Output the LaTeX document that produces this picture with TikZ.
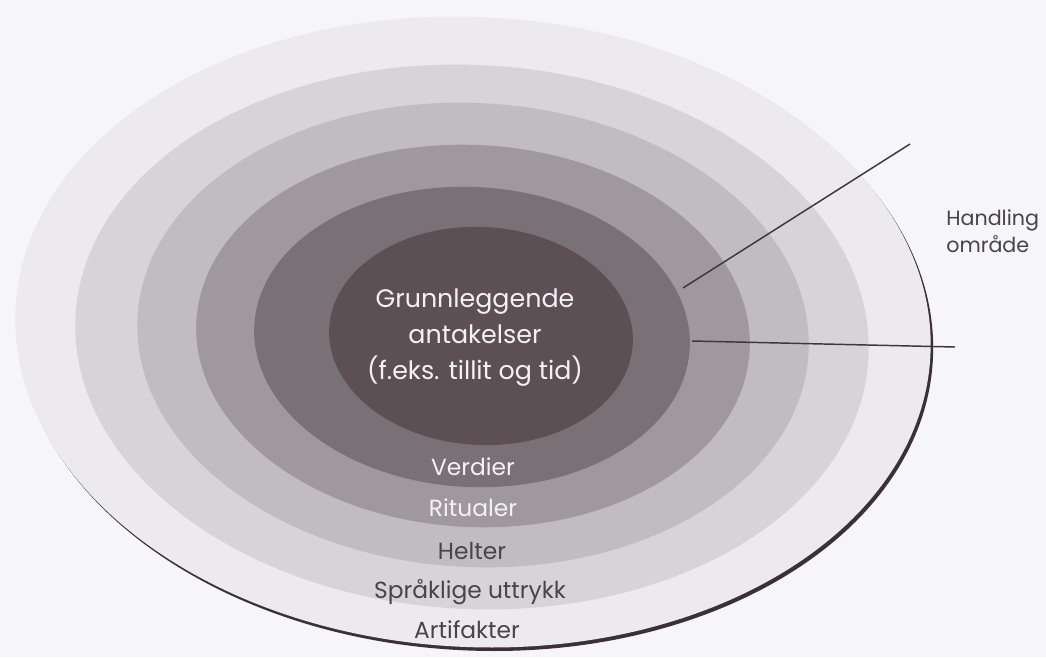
\documentclass[tikz,border=0pt]{standalone}
\usepackage{fontspec}
\setmainfont{Poppins}
\definecolor{bgc}{HTML}{F6F5F7}
\definecolor{ringA}{HTML}{ECEAEE}
\definecolor{ringB}{HTML}{D7D4D9}
\definecolor{ringC}{HTML}{C0BCC2}
\definecolor{ringD}{HTML}{9F999F}
\definecolor{ringE}{HTML}{7A7176}
\definecolor{ringF}{HTML}{5C5055}
\definecolor{rimc}{HTML}{3A3136}
\definecolor{darktext}{HTML}{4A4448}
\definecolor{lighttext}{HTML}{F3F1F3}
\definecolor{linec}{HTML}{3E373B}
\begin{document}
\begin{tikzpicture}[x=0.75pt,y=-0.75pt,
  ringlabel/.style={font=\fontsize{17.5}{19}\selectfont},
  leader/.style={draw=linec,line width=1.1pt}]
\useasboundingbox (0,0) rectangle (1046,657);
\fill[bgc] (0,0) rectangle (1046,657);
% outer rim shadow
\fill[rimc] (475.5,335.5) circle[x radius=458, y radius=315, rotate=-3];
\fill[ringA] (473,332) circle[x radius=458, y radius=315, rotate=-3];
\fill[ringB] (472,337) circle[x radius=397, y radius=272, rotate=-3];
\fill[ringC] (473,335) circle[x radius=336, y radius=232, rotate=-3];
\fill[ringD] (473,336) circle[x radius=277, y radius=191, rotate=-3];
\fill[ringE] (472,337) circle[x radius=218, y radius=150, rotate=-3];
\fill[ringF] (481,336) circle[x radius=152, y radius=109, rotate=-3];
% texts
\node[text=lighttext,align=center,font=\fontsize{19}{27}\selectfont] (core) at (475,338)
  {Grunnleggende\\antakelser\\(f.eks. tillit og tid)};
\node[ringlabel,text=lighttext] (verdier) at (473,467) {Verdier};
\node[ringlabel,text=lighttext] (ritualer) at (473,508) {Ritualer};
\node[ringlabel,text=darktext] (helter) at (472,551) {Helter};
\node[ringlabel,text=darktext] (sprak) at (470,592) {Språklige uttrykk};
\node[ringlabel,text=darktext] (artifakter) at (467,630) {Artifakter};
\node[anchor=west,align=left,text=darktext,font=\fontsize{15.5}{20}\selectfont,inner sep=0pt] (handling) at (946,231)
  {Handling\\område};
% leader lines
\coordinate (l1a) at (683,288);
\coordinate (l1b) at (910,144);
\coordinate (l2a) at (692,341);
\coordinate (l2b) at (955,347);
\draw[leader] (l1a) -- (l1b);
\draw[leader] (l2a) -- (l2b);
\end{tikzpicture}
\end{document}
